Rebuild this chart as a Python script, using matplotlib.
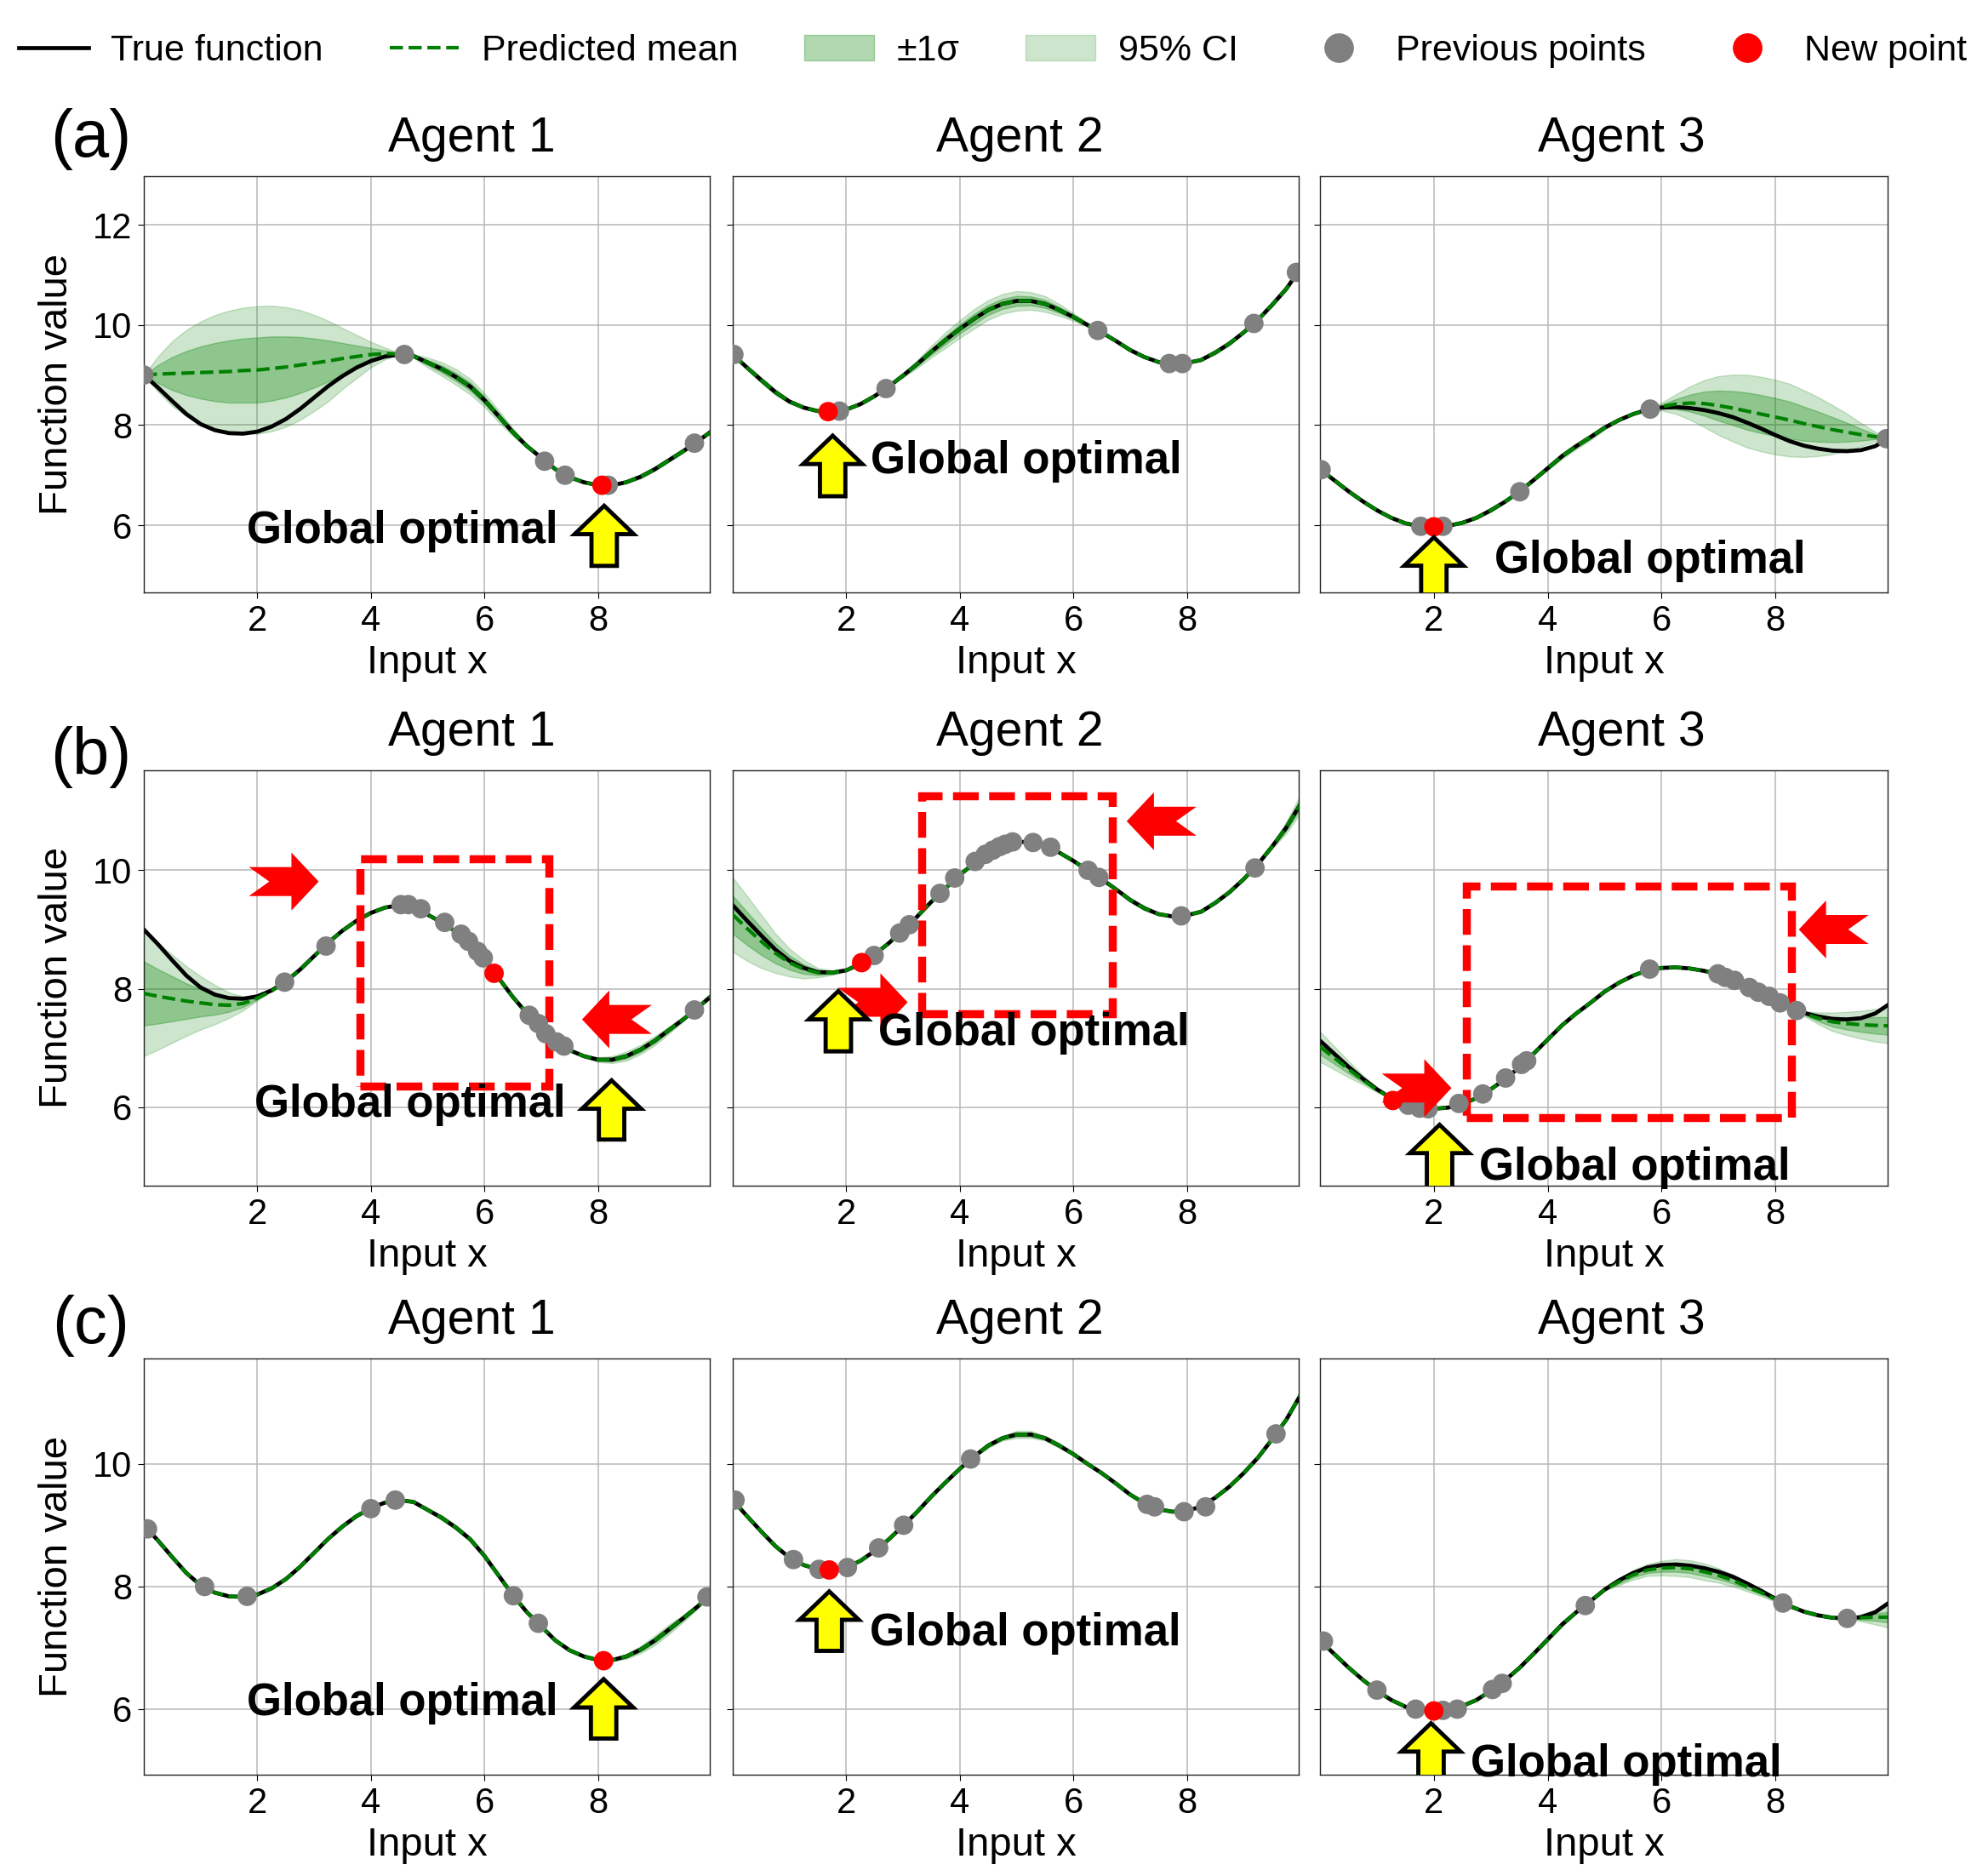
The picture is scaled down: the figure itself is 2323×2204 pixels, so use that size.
import numpy as np
import matplotlib
matplotlib.use("Agg")
import matplotlib.pyplot as plt
import matplotlib.transforms as mtransforms
from matplotlib.lines import Line2D
from matplotlib.patches import FancyArrowPatch, Polygon, Rectangle, ArrowStyle

plt.rcParams['font.family'] = ['Liberation Sans', 'DejaVu Sans']

# x grid of the curves (0 .. 10 in steps of 0.25)
x_grid = np.linspace(0, 10, 41)

# true functions
true_agent1 = [9.0, 8.75, 8.48, 8.22, 8.02, 7.9, 7.84, 7.83, 7.87, 7.97, 8.12, 8.32, 8.55, 8.78,
               8.98, 9.15, 9.28, 9.37, 9.41, 9.38, 9.25, 9.12, 8.96, 8.77, 8.5, 8.18, 7.86, 7.58,
               7.35, 7.12, 6.96, 6.86, 6.8, 6.8, 6.86, 6.97, 7.12, 7.3, 7.48, 7.67, 7.88]
true_agent2 = [9.41, 9.15, 8.9, 8.66, 8.47, 8.35, 8.28, 8.27, 8.31, 8.42, 8.58, 8.77, 8.99, 9.22,
               9.47, 9.7, 9.92, 10.12, 10.3, 10.42, 10.48, 10.48, 10.42, 10.3, 10.16, 10.0, 9.85,
               9.68, 9.5, 9.36, 9.26, 9.22, 9.24, 9.3, 9.45, 9.63, 9.85, 10.1, 10.4, 10.72, 11.12]
true_agent3 = [7.12, 6.9, 6.68, 6.48, 6.3, 6.15, 6.04, 5.98, 5.97, 5.99, 6.05, 6.15, 6.3, 6.47,
               6.67, 6.9, 7.14, 7.38, 7.58, 7.76, 7.95, 8.1, 8.22, 8.31, 8.35, 8.36, 8.34, 8.3,
               8.24, 8.16, 8.05, 7.93, 7.8, 7.68, 7.59, 7.53, 7.49, 7.48, 7.5, 7.58, 7.74]

# predicted means and standard deviations per panel
mean_a1 = [9.0, 9.02, 9.03, 9.04, 9.05, 9.06, 9.07, 9.09, 9.1, 9.13, 9.16, 9.2, 9.24, 9.28,
           9.33, 9.37, 9.41, 9.43, 9.42, 9.38, 9.25, 9.12, 8.96, 8.77, 8.5, 8.18, 7.86, 7.58,
           7.35, 7.12, 6.96, 6.86, 6.8, 6.8, 6.86, 6.97, 7.12, 7.3, 7.48, 7.67, 7.88]
sd_a1 = [0.0, 0.18, 0.33, 0.44, 0.52, 0.58, 0.62, 0.64, 0.65, 0.64, 0.61, 0.56, 0.49, 0.41,
         0.31, 0.22, 0.13, 0.06, 0.01, 0.02, 0.05, 0.07, 0.08, 0.08, 0.07, 0.06, 0.04, 0.02,
         0.01, 0.01, 0.01, 0.01, 0.0, 0.01, 0.01, 0.02, 0.02, 0.02, 0.02, 0.01, 0.02]
mean_a2 = true_agent2
sd_a2 = [0.0, 0.02, 0.03, 0.03, 0.02, 0.01, 0.0, 0.0, 0.0, 0.01, 0.01, 0.0, 0.02, 0.04,
         0.06, 0.08, 0.09, 0.1, 0.1, 0.1, 0.1, 0.09, 0.08, 0.06, 0.04, 0.02, 0.0, 0.01,
         0.02, 0.01, 0.01, 0.0, 0.0, 0.01, 0.02, 0.02, 0.01, 0.01, 0.02, 0.02, 0.0]
mean_a3 = [7.12, 6.9, 6.68, 6.48, 6.3, 6.15, 6.04, 5.98, 5.97, 5.99, 6.05, 6.15, 6.3, 6.47,
           6.67, 6.9, 7.14, 7.38, 7.58, 7.76, 7.95, 8.1, 8.22, 8.31, 8.37, 8.42, 8.44, 8.43,
           8.39, 8.34, 8.28, 8.22, 8.16, 8.1, 8.03, 7.97, 7.91, 7.86, 7.81, 7.77, 7.73]
sd_a3 = [0.0, 0.01, 0.01, 0.01, 0.01, 0.01, 0.0, 0.0, 0.0, 0.0, 0.01, 0.01, 0.02, 0.01,
         0.0, 0.01, 0.02, 0.03, 0.03, 0.03, 0.02, 0.01, 0.0, 0.0, 0.04, 0.1, 0.17, 0.24,
         0.3, 0.34, 0.37, 0.38, 0.38, 0.37, 0.34, 0.3, 0.25, 0.19, 0.12, 0.05, 0.0]

mean_b1 = [7.92, 7.87, 7.83, 7.79, 7.76, 7.73, 7.72, 7.75, 7.84, 7.96, 8.12, 8.32, 8.55, 8.78,
           8.98, 9.15, 9.28, 9.37, 9.41, 9.38, 9.25, 9.12, 8.96, 8.77, 8.5, 8.18, 7.86, 7.58,
           7.35, 7.12, 6.96, 6.86, 6.8, 6.8, 6.86, 6.97, 7.12, 7.3, 7.48, 7.67, 7.88]
sd_b1 = [0.54, 0.46, 0.38, 0.3, 0.23, 0.17, 0.11, 0.06, 0.02, 0.0, 0.0, 0.0, 0.0, 0.0,
         0.0, 0.0, 0.0, 0.0, 0.0, 0.0, 0.0, 0.0, 0.0, 0.0, 0.0, 0.0, 0.0, 0.0,
         0.0, 0.0, 0.0, 0.01, 0.02, 0.03, 0.04, 0.04, 0.04, 0.03, 0.02, 0.0, 0.02]
mean_b2 = [9.25, 9.02, 8.8, 8.6, 8.44, 8.33, 8.27, 8.27, 8.31, 8.42, 8.58, 8.77, 8.99, 9.22,
           9.47, 9.7, 9.92, 10.12, 10.3, 10.42, 10.48, 10.48, 10.42, 10.3, 10.16, 10.0, 9.85,
           9.68, 9.5, 9.36, 9.26, 9.22, 9.24, 9.3, 9.45, 9.63, 9.85, 10.1, 10.4, 10.72, 11.12]
sd_b2 = [0.32, 0.28, 0.23, 0.17, 0.12, 0.08, 0.04, 0.02, 0.01, 0.0, 0.0, 0.0, 0.0, 0.0,
         0.0, 0.0, 0.0, 0.0, 0.0, 0.0, 0.0, 0.0, 0.0, 0.0, 0.0, 0.0, 0.0, 0.01,
         0.02, 0.02, 0.01, 0.0, 0.0, 0.01, 0.01, 0.01, 0.0, 0.0, 0.02, 0.05, 0.08]
mean_b3 = [7.02, 6.83, 6.64, 6.46, 6.29, 6.15, 6.04, 5.98, 5.97, 5.99, 6.05, 6.15, 6.3, 6.47,
           6.67, 6.9, 7.14, 7.38, 7.58, 7.76, 7.95, 8.1, 8.22, 8.31, 8.35, 8.36, 8.34, 8.3,
           8.24, 8.16, 8.05, 7.93, 7.8, 7.68, 7.58, 7.5, 7.44, 7.41, 7.39, 7.38, 7.37]
sd_b3 = [0.13, 0.1, 0.07, 0.04, 0.02, 0.0, 0.0, 0.0, 0.0, 0.0, 0.0, 0.0, 0.0, 0.0,
         0.0, 0.0, 0.0, 0.0, 0.0, 0.0, 0.0, 0.0, 0.0, 0.0, 0.0, 0.0, 0.0, 0.0,
         0.0, 0.0, 0.0, 0.0, 0.0, 0.0, 0.02, 0.05, 0.08, 0.1, 0.12, 0.14, 0.15]

mean_c1 = true_agent1
sd_c1 = [0.0, 0.01, 0.01, 0.01, 0.0, 0.01, 0.01, 0.0, 0.01, 0.01, 0.01, 0.01, 0.01, 0.01,
         0.01, 0.01, 0.0, 0.0, 0.0, 0.01, 0.01, 0.02, 0.02, 0.02, 0.01, 0.01, 0.0, 0.0,
         0.0, 0.01, 0.01, 0.01, 0.0, 0.01, 0.02, 0.03, 0.04, 0.04, 0.03, 0.02, 0.0]
mean_c2 = true_agent2
sd_c2 = [0.0, 0.01, 0.01, 0.0, 0.0, 0.0, 0.0, 0.0, 0.0, 0.0, 0.0, 0.0, 0.0, 0.01,
         0.01, 0.01, 0.0, 0.01, 0.02, 0.02, 0.03, 0.03, 0.02, 0.02, 0.01, 0.01, 0.01, 0.01,
         0.0, 0.0, 0.0, 0.0, 0.0, 0.0, 0.01, 0.01, 0.01, 0.01, 0.0, 0.01, 0.01]
mean_c3 = [7.12, 6.9, 6.68, 6.48, 6.3, 6.15, 6.04, 5.98, 5.97, 5.99, 6.05, 6.15, 6.3, 6.47,
           6.67, 6.9, 7.14, 7.38, 7.58, 7.76, 7.95, 8.08, 8.19, 8.27, 8.3, 8.31, 8.29, 8.24,
           8.18, 8.1, 8.0, 7.9, 7.79, 7.68, 7.59, 7.53, 7.49, 7.48, 7.49, 7.5, 7.5]
sd_c3 = [0.0, 0.01, 0.01, 0.01, 0.0, 0.01, 0.0, 0.0, 0.0, 0.0, 0.0, 0.01, 0.01, 0.0,
         0.01, 0.01, 0.02, 0.02, 0.01, 0.0, 0.01, 0.03, 0.04, 0.05, 0.06, 0.07, 0.07, 0.07,
         0.06, 0.05, 0.04, 0.03, 0.02, 0.0, 0.01, 0.01, 0.01, 0.0, 0.03, 0.06, 0.09]

# sampled points (previous) and the new point per panel
prev_a1_x = [0.0, 4.59, 7.06, 7.42, 8.18, 9.7]
prev_a1_y = [9.0, 9.41, 7.28, 7.0, 6.8, 7.64]
new_a1 = (8.07, 6.8)
prev_a2_x = [0.02, 1.88, 2.7, 6.43, 7.69, 7.92, 9.18, 9.93]
prev_a2_y = [9.41, 8.28, 8.73, 9.89, 9.23, 9.23, 10.03, 11.05]
new_a2 = (1.68, 8.27)
prev_a3_x = [0.02, 1.77, 2.16, 3.51, 5.8, 9.95]
prev_a3_y = [7.11, 5.98, 5.98, 6.67, 8.32, 7.73]
new_a3 = (2.0, 5.97)

prev_b1_x = [2.48, 3.21, 4.53, 4.66, 4.88, 5.3, 5.59, 5.72, 5.88, 5.98, 6.79, 6.95, 7.08,
             7.27, 7.4, 9.7]
prev_b1_y = [8.11, 8.72, 9.42, 9.42, 9.35, 9.12, 8.92, 8.8, 8.63, 8.52, 7.55, 7.41, 7.24,
             7.1, 7.03, 7.64]
new_b1 = (6.17, 8.26)
prev_b2_x = [2.49, 2.94, 3.11, 3.65, 3.91, 4.27, 4.45, 4.58, 4.7, 4.8, 4.93, 5.29, 5.6,
             6.26, 6.45, 7.9, 9.2]
prev_b2_y = [8.56, 8.94, 9.08, 9.61, 9.87, 10.15, 10.27, 10.34, 10.4, 10.44, 10.48, 10.47,
             10.39, 10.0, 9.88, 9.23, 10.04]
new_b2 = (2.27, 8.44)
prev_b3_x = [1.55, 1.75, 1.9, 2.44, 2.86, 3.26, 3.54, 3.63, 5.79, 6.99, 7.12, 7.28, 7.54,
             7.7, 7.89, 8.08, 8.37]
prev_b3_y = [6.03, 5.98, 5.97, 6.06, 6.22, 6.49, 6.72, 6.78, 8.33, 8.25, 8.19, 8.14, 8.02,
             7.94, 7.87, 7.76, 7.63]
new_b3 = (1.28, 6.11)

prev_c1_x = [0.065, 1.07, 1.82, 4.0, 4.43, 6.51, 6.95, 9.92]
prev_c1_y = [8.94, 8.0, 7.84, 9.27, 9.41, 7.85, 7.4, 7.83]
new_c1 = (8.1, 6.79)
prev_c2_x = [0.04, 1.07, 1.52, 2.02, 2.57, 3.01, 4.19, 7.3, 7.43, 7.95, 8.33, 9.57]
prev_c2_y = [9.41, 8.44, 8.28, 8.31, 8.63, 9.0, 10.08, 9.34, 9.3, 9.22, 9.3, 10.49]
new_c2 = (1.7, 8.27)
prev_c3_x = [0.06, 1.0, 1.68, 2.16, 2.41, 3.03, 3.2, 4.66, 8.13, 9.26]
prev_c3_y = [7.11, 6.31, 6.0, 5.98, 6.0, 6.32, 6.42, 7.69, 7.73, 7.48]
new_c3 = (2.0, 5.97)

row_labels = ['(a)', '(b)', '(c)']
agent_titles = ['Agent 1', 'Agent 2', 'Agent 3']
true_funcs = [true_agent1, true_agent2, true_agent3]

panels = [
    [(mean_a1, sd_a1, prev_a1_x, prev_a1_y, new_a1),
     (mean_a2, sd_a2, prev_a2_x, prev_a2_y, new_a2),
     (mean_a3, sd_a3, prev_a3_x, prev_a3_y, new_a3)],
    [(mean_b1, sd_b1, prev_b1_x, prev_b1_y, new_b1),
     (mean_b2, sd_b2, prev_b2_x, prev_b2_y, new_b2),
     (mean_b3, sd_b3, prev_b3_x, prev_b3_y, new_b3)],
    [(mean_c1, sd_c1, prev_c1_x, prev_c1_y, new_c1),
     (mean_c2, sd_c2, prev_c2_x, prev_c2_y, new_c2),
     (mean_c3, sd_c3, prev_c3_x, prev_c3_y, new_c3)],
]

# annotation placement: yellow arrow (x, tip, tail) and text (x, y, ha)
optimal_marks = [
    [((8.11, 6.39, 5.19), (7.30, 5.89, 'right')),
     ((1.76, 7.79, 6.58), (2.43, 7.27, 'left')),
     ((2.00, 5.76, 4.40), (3.07, 5.29, 'left'))],
    [((8.24, 6.45, 5.45), (7.43, 6.04, 'right')),
     ((1.86, 7.96, 6.94), (2.57, 7.24, 'left')),
     ((2.10, 5.70, 4.50), (2.79, 4.97, 'left'))],
    [((8.10, 6.49, 5.52), (7.30, 6.09, 'right')),
     ((1.70, 7.92, 6.95), (2.41, 7.24, 'left')),
     ((1.95, 5.77, 4.70), (2.65, 5.09, 'left'))],
]
# row (b): focus boxes (x0, y0, x1, y1) and red pointers (tip x, tip y, direction)
focus_boxes = [(3.81, 6.36, 7.13, 10.19), (3.33, 7.57, 6.68, 11.26), (2.57, 5.82, 8.28, 9.73)]
red_pointers = [[(3.08, 9.81, 'right'), (7.72, 7.48, 'left')],
                [(6.94, 10.83, 'left'), (3.08, 7.77, 'right')],
                [(8.41, 9.00, 'left'), (2.31, 6.32, 'right')]]

W, H = 2323, 2204
fig = plt.figure(figsize=(W / 100, H / 100), dpi=100)

col_px = [(169, 834), (861, 1526), (1551, 2218)]
row_px = [(207, 696), (905, 1393), (1596, 2085)]
row_label_y = [163, 889, 1558]
ylims = [(4.66, 12.97), (4.67, 11.69), (4.93, 11.72)]
yticks = [[6, 8, 10, 12], [6, 8, 10], [6, 8, 10]]
title_x = [0.579, 0.507, 0.531]


def red_pointer(ax, tx, ty, direction):
    # notched block arrow, sizes in pixels, tip at the origin
    verts = np.array([[0, 0], [-32, 34], [-32, 17], [-82, 17], [-58, 0],
                      [-82, -17], [-32, -17], [-32, -34]], dtype=float)
    if direction == 'left':
        verts[:, 0] *= -1
    trans = fig.dpi_scale_trans + mtransforms.ScaledTranslation(tx, ty, ax.transData)
    ax.add_patch(Polygon(verts / 100.0, closed=True, transform=trans,
                         fc='red', ec='none', zorder=6))


legend_handles = None
for r in range(3):
    for c in range(3):
        l, rr = col_px[c]
        t, b = row_px[r]
        ax = fig.add_axes([l / W, 1 - b / H, (rr - l) / W, (b - t) / H])
        mean, sd, px, py, newp = panels[r][c]
        mean = np.array(mean)
        sd = np.array(sd)

        ci = ax.fill_between(x_grid, mean - 1.96 * sd, mean + 1.96 * sd,
                             color='green', alpha=0.2, zorder=1)
        s1 = ax.fill_between(x_grid, mean - sd, mean + sd,
                             color='green', alpha=0.3, zorder=1)
        ln_true, = ax.plot(x_grid, true_funcs[c], color='black', lw=3.4, zorder=2)
        ln_mean, = ax.plot(x_grid, mean, color='green', ls='--', lw=3.0, zorder=3)
        ax.scatter(px, py, s=270, color='gray', edgecolors='none', zorder=5)
        ax.scatter([newp[0]], [newp[1]], s=270, color='red', edgecolors='none', zorder=5.5)

        if legend_handles is None:
            legend_handles = [ln_true, ln_mean, s1, ci]

        (axx, tip, tail), (tx, ty, ha) = optimal_marks[r][c]
        arr = FancyArrowPatch((axx, tail), (axx, tip),
                              arrowstyle=ArrowStyle.Simple(head_length=0.48, head_width=1.0,
                                                           tail_width=0.43),
                              mutation_scale=50, shrinkA=0, shrinkB=0,
                              fc='yellow', ec='black', lw=3.5, joinstyle='miter', zorder=7)
        ax.add_patch(arr)
        ax.text(tx, ty, 'Global optimal', fontsize=38, fontweight='bold',
                ha=ha, va='center', zorder=8)

        if r == 1:
            x0, y0, x1, y1 = focus_boxes[c]
            ax.add_patch(Rectangle((x0, y0), x1 - x0, y1 - y0, fill=False, ec='red',
                                   lw=6.8, ls=(0, (3.2, 1.3)), zorder=4))
            for (rx, ry, d) in red_pointers[c]:
                red_pointer(ax, rx, ry, d)

        ax.set_xlim(0, 9.97)
        ax.set_ylim(*ylims[r])
        ax.set_xticks([2, 4, 6, 8])
        ax.set_yticks(yticks[r])
        ax.grid(True, color='#b8b8b8', lw=1.1)
        ax.set_axisbelow(True)
        ax.tick_params(axis='x', labelsize=30, pad=5, length=5)
        ax.tick_params(axis='y', labelsize=30, pad=5, length=5)
        if c > 0:
            ax.tick_params(axis='y', labelleft=False)
        for sp in ax.spines.values():
            sp.set_linewidth(1.0)
            sp.set_color('#222222')
        ax.set_xlabel('Input x', fontsize=34, labelpad=5)
        ax.set_title(agent_titles[c], fontsize=41, pad=21, x=title_x[c])

    fig.text(67 / W, 1 - ((row_px[r][0] + row_px[r][1]) / 2) / H, 'Function value',
             rotation=90, fontsize=34, ha='center', va='center')
    fig.text(107 / W, 1 - row_label_y[r] / H, row_labels[r],
             fontsize=56, ha='center', va='center')

prev_handle = Line2D([], [], marker='o', ls='', color='gray', markersize=24)
new_handle = Line2D([], [], marker='o', ls='', color='red', markersize=24)
fig.legend(legend_handles + [prev_handle, new_handle],
           ['True function', 'Predicted mean', '±1σ', '95% CI', 'Previous points', 'New point'],
           loc='center left', bbox_to_anchor=(22 / W, 1 - 60 / H), ncol=6, frameon=False,
           fontsize=31, handlelength=1.9, handletextpad=0.62, columnspacing=1.8,
           borderpad=0, borderaxespad=0)

fig.savefig('out.png', dpi=100)
